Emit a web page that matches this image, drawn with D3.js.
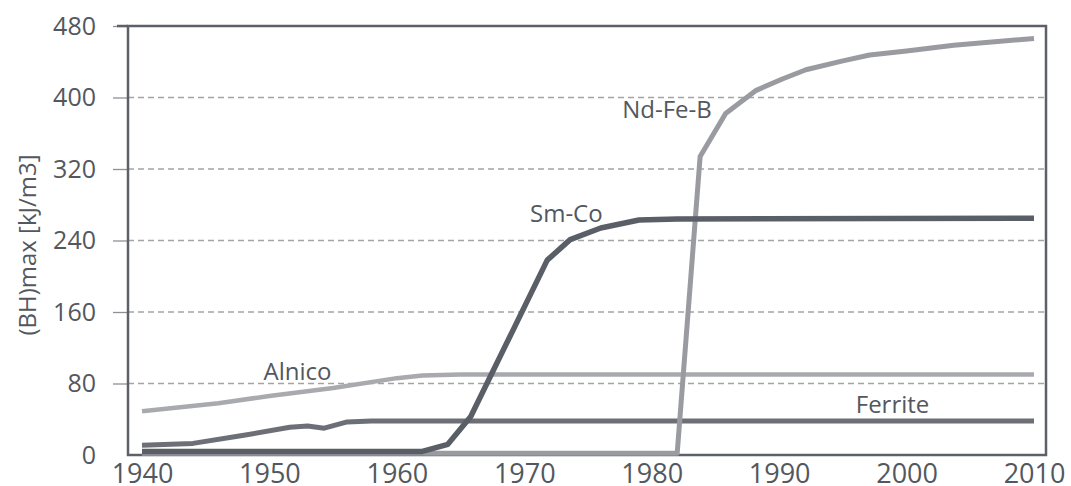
<!DOCTYPE html>
<html>
<head>
<meta charset="utf-8">
<script src="https://cdn.jsdelivr.net/npm/d3@7"></script>
<style>
  body { margin: 0; background: #fff; }
  text { font-family: "Open Sans", "Noto Sans", sans-serif; fill: #53575e; }
</style>
</head>
<body>
<script>
// values
const alnicoYears = [1940, 1946, 1950, 1955, 1960, 1962, 1965, 2010];
const alnicoValues = [49, 58, 66, 75, 86, 89, 90, 90];

const ferriteYears = [1940, 1944, 1948, 1951.6, 1953, 1954.3, 1956.1, 1958, 2010];
const ferriteValues = [11, 13, 22, 31, 32.5, 30, 37, 38, 38];

const smcoYears = [1940, 1962, 1964, 1965.8, 1971.8, 1973.6, 1976, 1979, 1982, 2010];
const smcoValues = [4, 4, 12, 43, 218, 241, 254, 263, 264, 265];

const ndfebYears = [1940, 1982, 1983.8, 1985.8, 1988.2, 1990.3, 1992.1, 1995, 1997.1, 2000, 2003.7, 2010];
const ndfebValues = [2, 2, 334, 382, 408, 421, 431, 441, 447.5, 452, 458.5, 466];

const yTicks = [0, 80, 160, 240, 320, 400, 480];
const xTicks = [1940, 1950, 1960, 1970, 1980, 1990, 2000, 2010];

// label anchor in data units
const seriesLabels = [
  { name: "Nd-Fe-B", year: 1981.2, value: 377 },
  { name: "Sm-Co", year: 1973.3, value: 261 },
  { name: "Alnico", year: 1952.2, value: 84 },
  { name: "Ferrite", year: 1998.9, value: 47 }
];

const width = 1071;
const height = 486;
const plotLeft = 128, plotRight = 1046, plotTop = 26, plotBottom = 455;

const svg = d3.select("body").append("svg")
  .attr("width", width)
  .attr("height", height);

const xScale = d3.scaleLinear().domain([1940, 2010]).range([142, 1034]);
const yScale = d3.scaleLinear().domain([0, 480]).range([plotBottom, plotTop]);

// dashed grid
svg.append("g")
  .selectAll("line")
  .data(yTicks.filter(d => d > 0 && d < 480))
  .join("line")
  .attr("x1", plotLeft)
  .attr("x2", plotRight)
  .attr("y1", d => yScale(d))
  .attr("y2", d => yScale(d))
  .attr("stroke", "#a3a4a8")
  .attr("stroke-width", 1.3)
  .attr("stroke-dasharray", "6,4");

// y axis
const yAxis = d3.axisLeft(yScale).tickValues(yTicks).tickSize(15).tickPadding(17);
const yg = svg.append("g")
  .attr("transform", "translate(" + plotLeft + ",0)")
  .call(yAxis);
yg.select(".domain").remove();
yg.selectAll(".tick line").attr("stroke", "#8e9095").attr("stroke-width", 1.3)
  .attr("display", d => d === 0 ? "none" : null);
yg.selectAll(".tick text")
  .attr("font-size", 25)
  .attr("font-family", "'Open Sans', sans-serif")
  .attr("fill", "#53575e");

// x axis
const xAxis = d3.axisBottom(xScale).tickValues(xTicks).tickFormat(d3.format("d")).tickSize(0).tickPadding(9);
const xg = svg.append("g")
  .attr("transform", "translate(0," + plotBottom + ")")
  .call(xAxis);
xg.select(".domain").remove();
xg.selectAll(".tick text")
  .attr("font-size", 27)
  .attr("font-family", "'Open Sans', sans-serif")
  .attr("fill", "#53575e");

// frame
svg.append("rect")
  .attr("x", plotLeft)
  .attr("y", plotTop)
  .attr("width", plotRight - plotLeft)
  .attr("height", plotBottom - plotTop)
  .attr("fill", "none")
  .attr("stroke", "#5d6068")
  .attr("stroke-width", 2.5);
svg.append("line")
  .attr("x1", 117).attr("x2", plotLeft)
  .attr("y1", plotTop).attr("y2", plotTop)
  .attr("stroke", "#5d6068")
  .attr("stroke-width", 2.5);

// lines
const line = d3.line()
  .x(d => xScale(d[0]))
  .y(d => yScale(d[1]));

const series = [
  { years: alnicoYears, values: alnicoValues, color: "#a9aaae", w: 4.5 },
  { years: ferriteYears, values: ferriteValues, color: "#6c6f76", w: 5 },
  { years: ndfebYears, values: ndfebValues, color: "#9a9ba0", w: 5 },
  { years: smcoYears, values: smcoValues, color: "#5a5e66", w: 5.5 }
];

svg.append("g")
  .selectAll("path")
  .data(series)
  .join("path")
  .attr("d", s => line(s.years.map((y, i) => [y, s.values[i]])))
  .attr("fill", "none")
  .attr("stroke", s => s.color)
  .attr("stroke-width", s => s.w)
  .attr("stroke-linejoin", "round");

// series names
svg.append("g")
  .selectAll("text")
  .data(seriesLabels)
  .join("text")
  .attr("x", d => xScale(d.year))
  .attr("y", d => yScale(d.value))
  .attr("text-anchor", "middle")
  .attr("font-size", 24)
  .text(d => d.name);

// axis title
svg.append("text")
  .attr("transform", "translate(36,245) rotate(-90)")
  .attr("text-anchor", "middle")
  .attr("font-size", 24)
  .text("(BH)max [kJ/m3]");
</script>
</body>
</html>
